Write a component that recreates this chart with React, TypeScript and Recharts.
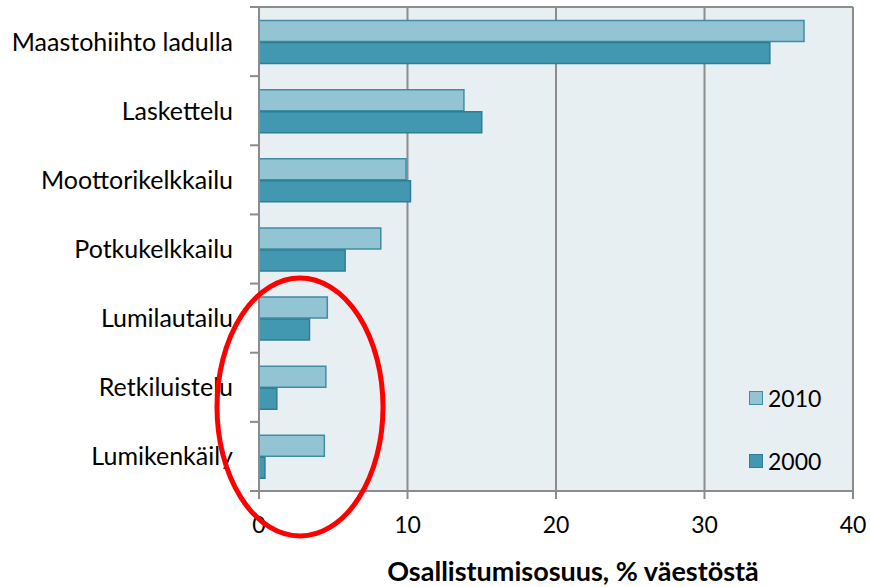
import React from "react";
import { Bar, BarChart, CartesianGrid, XAxis, YAxis } from "recharts";

const categories = [
  "Maastohiihto ladulla",
  "Laskettelu",
  "Moottorikelkkailu",
  "Potkukelkkailu",
  "Lumilautailu",
  "Retkiluistelu",
  "Lumikenkäily",
];
const values2010 = [36.7, 13.8, 9.9, 8.2, 4.6, 4.5, 4.4];
const values2000 = [34.4, 15.0, 10.2, 5.8, 3.4, 1.2, 0.4];
const xTicks = [0, 10, 20, 30, 40];
const seriesNames = ["2010", "2000"];

const data = categories.map((name, i) => ({ name, y2010: values2010[i], y2000: values2000[i] }));

const W = 870;
const H = 587;
const margin = { top: 7, right: 17, left: 0, bottom: 0 };
const plotH = 491 - 7;
const band = plotH / categories.length;
const font = "Lato, 'Open Sans', sans-serif";
const colors = [
  { fill: "#93c4d4", stroke: "#3f8da3" },
  { fill: "#4298b0", stroke: "#2f7d92" },
];

const YTick = (props: any) => {
  const { x, y, payload, index } = props;
  const axisX = x + 23;
  return (
    <g>
      <line x1={axisX - 9} x2={axisX} y1={y - band / 2} y2={y - band / 2} stroke="#8c8c8c" strokeWidth={2} />
      {index === categories.length - 1 && (
        <line x1={axisX - 9} x2={axisX} y1={y + band / 2} y2={y + band / 2} stroke="#8c8c8c" strokeWidth={2} />
      )}
      <text x={x - 3} y={y} dy="0.36em" textAnchor="end" fontSize={25} fill="#000" fontFamily={font}>
        {payload.value}
      </text>
    </g>
  );
};

const LegendBox = () => (
  <div
    style={{
      position: "absolute",
      left: 749,
      top: 384,
      fontFamily: font,
      fontSize: 23,
      color: "#000",
      lineHeight: "28px",
    }}
  >
    {seriesNames.map((label, i) => (
      <div key={label} style={{ display: "flex", alignItems: "center", height: 28, marginBottom: i === 0 ? 35 : 0 }}>
        <span
          style={{
            display: "inline-block",
            width: 12,
            height: 12,
            background: colors[i].fill,
            border: `1.5px solid ${colors[i].stroke}`,
            marginRight: 5,
          }}
        />
        <span>{label}</span>
      </div>
    ))}
  </div>
);

export default function App() {
  return (
    <div style={{ position: "absolute", left: 0, top: 0, width: W, height: H, background: "#fff" }}>
      <BarChart
        width={W}
        height={H}
        data={data}
        layout="vertical"
        margin={margin}
        barCategoryGap="19.5%"
        barGap={1}
      >
        <CartesianGrid
          fill="#e8eff3"
          stroke="#8c8c8c"
          strokeWidth={2}
          horizontalPoints={[7]}
          vertical
        />
        <XAxis
          type="number"
          domain={[0, 40]}
          ticks={xTicks}
          interval={0}
          height={96}
          stroke="#8c8c8c"
          strokeWidth={2}
          tickSize={8}
          tickMargin={18}
          tick={{ fill: "#000", fontSize: 23, fontFamily: font }}
          label={{
            value: "Osallistumisosuus, % väestöstä",
            position: "insideBottom",
            offset: 6,
            dx: 17,
            fill: "#000",
            fontSize: 27,
            fontWeight: 700,
            fontFamily: font,
          }}
        />
        <YAxis
          type="category"
          dataKey="name"
          width={259}
          stroke="#8c8c8c"
          strokeWidth={2}
          tickLine={false}
          tickSize={9}
          tickMargin={14}
          interval={0}
          tick={<YTick />}
        />
        <Bar dataKey="y2010" name={seriesNames[0]} fill={colors[0].fill} stroke={colors[0].stroke} strokeWidth={1.5} isAnimationActive={false} />
        <Bar dataKey="y2000" name={seriesNames[1]} fill={colors[1].fill} stroke={colors[1].stroke} strokeWidth={1.5} isAnimationActive={false} />
      </BarChart>
      <LegendBox />
      <svg width={W} height={H} style={{ position: "absolute", left: 0, top: 0, pointerEvents: "none" }}>
        <ellipse cx={300} cy={407} rx={83} ry={129} fill="none" stroke="#ff0000" strokeWidth={5} />
      </svg>
    </div>
  );
}
